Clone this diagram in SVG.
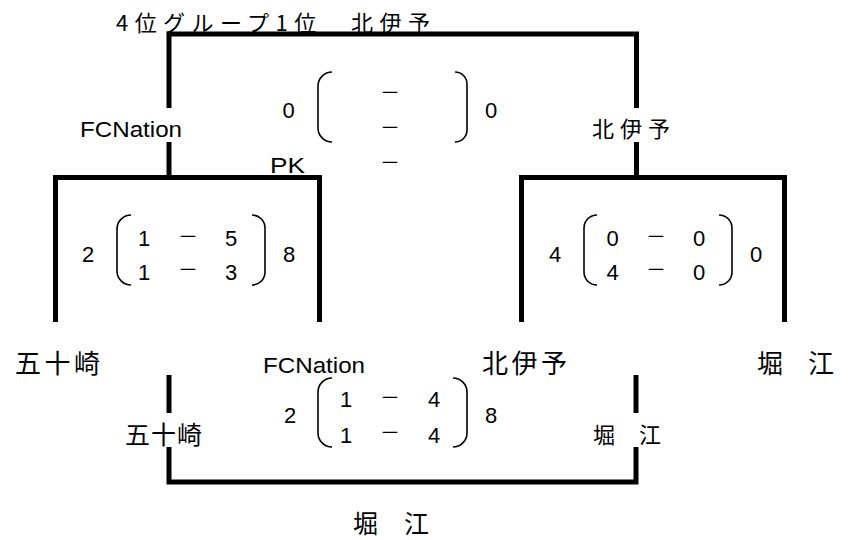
<svg xmlns="http://www.w3.org/2000/svg" width="853" height="540" viewBox="0 0 853 540">
<style>
.ln{fill:none;stroke:#000;stroke-width:5;stroke-linecap:butt}
.br{fill:none;stroke:#000;stroke-width:1.6}
.n{font-family:"Liberation Sans",Arial,sans-serif;font-size:22px;fill:#000;text-anchor:middle}
.l{font-family:"Liberation Sans",Arial,sans-serif;font-size:22px;fill:#000}
.d{font-family:"Noto Sans CJK JP",sans-serif;font-size:20px;fill:#000;text-anchor:middle}
.j{font-family:"Noto Sans CJK JP",sans-serif;fill:#000}
</style>
<rect width="853" height="540" fill="#fff"/>
<g id="connectors">
<path class="ln" d="M169,108 V34 H636.5 V108"/>
<path class="ln" d="M169,142 V177.5"/>
<path class="ln" d="M636.5,142 V177.5"/>
<path class="ln" d="M55.5,322 V177.5 H319.5 V322"/>
<path class="ln" d="M521.5,322 V177.5 H784.5 V322"/>
<path class="ln" d="M169,375 V413"/>
<path class="ln" d="M636,375 V413"/>
<path class="ln" d="M169,447 V482 H636 V447"/>
</g>
<g id="title">
<text class="j" x="116" y="31" font-size="22" textLength="314" lengthAdjust="spacing">4位グループ1位　北伊予</text>
</g>
<g id="final-left">
<text class="l" x="80" y="137" textLength="102" lengthAdjust="spacingAndGlyphs">FCNation</text>
</g>
<g id="final-right">
<text class="j" x="592" y="137" font-size="22" textLength="78" lengthAdjust="spacing">北伊予</text>
</g>
<g id="final-score">
<text class="n" x="288.5" y="118">0</text>
<path class="br" d="M332,72 A14,14 0 0 0 318,86 V128 A14,14 0 0 0 332,142"/>
<text class="d" x="390" y="100">－</text>
<text class="d" x="390" y="135">－</text>
<text class="d" x="390" y="170">－</text>
<path class="br" d="M455,72 A12,12 0 0 1 467,84 V130 A12,12 0 0 1 455,142"/>
<text class="n" x="491" y="118">0</text>
<text class="l" x="270" y="173" textLength="35" lengthAdjust="spacingAndGlyphs">PK</text>
</g>
<g id="semi1-score">
<text class="n" x="88" y="262">2</text>
<path class="br" d="M131,215 A14,14 0 0 0 117,229 V271 A14,14 0 0 0 131,285"/>
<text class="n" x="144" y="246">1</text>
<text class="n" x="144" y="280">1</text>
<text class="d" x="188" y="244">－</text>
<text class="d" x="188" y="277">－</text>
<text class="n" x="231" y="246">5</text>
<text class="n" x="231" y="280">3</text>
<path class="br" d="M252,215 A13,13 0 0 1 265,228 V272 A13,13 0 0 1 252,285"/>
<text class="n" x="289" y="262">8</text>
</g>
<g id="semi2-score">
<text class="n" x="555" y="262">4</text>
<path class="br" d="M597,215 A13,13 0 0 0 584,228 V272 A13,13 0 0 0 597,285"/>
<text class="n" x="612.5" y="246">0</text>
<text class="n" x="612.5" y="280">4</text>
<text class="d" x="656" y="244">－</text>
<text class="d" x="656" y="277">－</text>
<text class="n" x="699" y="246">0</text>
<text class="n" x="699" y="280">0</text>
<path class="br" d="M719,215 A13,13 0 0 1 732,228 V272 A13,13 0 0 1 719,285"/>
<text class="n" x="756" y="262">0</text>
</g>
<g id="team-isozaki">
<text class="j" x="15" y="373" font-size="26" textLength="85" lengthAdjust="spacing">五十崎</text>
</g>
<g id="team-fcnation">
<text class="l" x="263" y="373" textLength="102" lengthAdjust="spacingAndGlyphs">FCNation</text>
</g>
<g id="team-kitaiyo">
<text class="j" x="482" y="373" font-size="26" textLength="85" lengthAdjust="spacing">北伊予</text>
</g>
<g id="team-horie">
<text class="j" x="757" y="373" font-size="26" textLength="77" lengthAdjust="spacing">堀　江</text>
</g>
<g id="third-left">
<text class="j" x="125" y="444" font-size="25" textLength="77" lengthAdjust="spacing">五十崎</text>
</g>
<g id="third-right">
<text class="j" x="593" y="443" font-size="22" textLength="68" lengthAdjust="spacing">堀　江</text>
</g>
<g id="third-score">
<text class="n" x="290" y="423">2</text>
<path class="br" d="M332,378 A14,14 0 0 0 318,392 V433 A14,14 0 0 0 332,447"/>
<text class="n" x="346" y="407">1</text>
<text class="n" x="346" y="443">1</text>
<text class="d" x="390" y="405">－</text>
<text class="d" x="390" y="440">－</text>
<text class="n" x="434" y="407">4</text>
<text class="n" x="434" y="443">4</text>
<path class="br" d="M453,378 A14,14 0 0 1 467,392 V433 A14,14 0 0 1 453,447"/>
<text class="n" x="491" y="423">8</text>
</g>
<g id="third-winner">
<text class="j" x="353" y="533" font-size="25" textLength="76" lengthAdjust="spacing">堀　江</text>
</g>
</svg>
